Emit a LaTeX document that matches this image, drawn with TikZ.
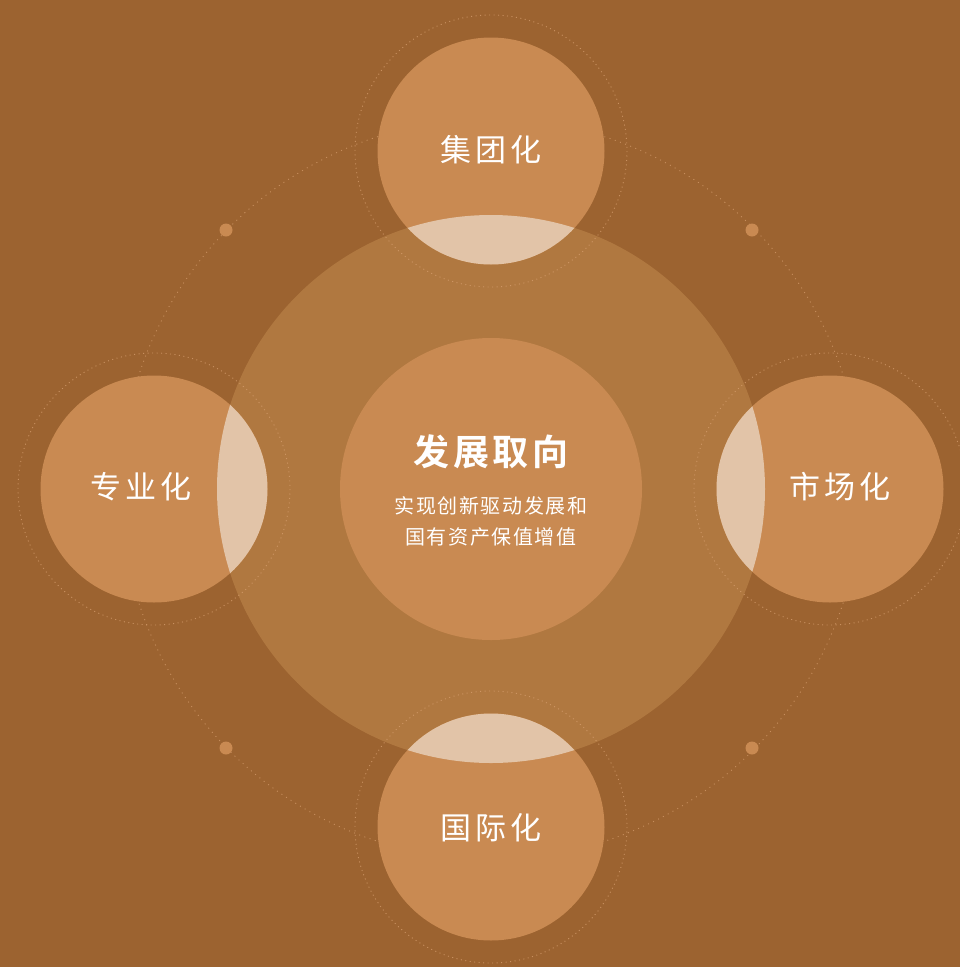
\documentclass[tikz,border=0pt]{standalone}
\usepackage{fontspec}
\setmainfont{Noto Sans CJK SC}
\newfontfamily\cjklabel[LetterSpace=12]{Noto Sans CJK SC}
\newfontfamily\cjktitle[LetterSpace=10,BoldFont={Noto Sans CJK SC Bold}]{Noto Sans CJK SC}
\newfontfamily\cjksub[LetterSpace=8]{Noto Sans CJK SC}
\definecolor{bgc}{HTML}{9C6330}
\definecolor{bigc}{HTML}{B07840}
\definecolor{satc}{HTML}{C98A52}
\definecolor{lensc}{HTML}{E2C4A8}
\definecolor{dotc}{HTML}{D8A070}
\tikzset{
  ring/.style={draw=dotc, line width=0.9pt, dash pattern=on 1pt off 3.5pt, draw opacity=0.75},
  bigring/.style={draw=dotc, line width=0.9pt, dash pattern=on 1pt off 4.5pt, draw opacity=0.7},
  satlabel/.style={text=white, font=\cjklabel\fontsize{31}{35}\selectfont, inner sep=0pt},
}
\begin{document}
\begin{tikzpicture}[x=1pt,y=-1pt]
\useasboundingbox (0,0) rectangle (960,967);
\fill[bgc] (0,0) rectangle (960,967);
% large dotted orbit
\draw[bigring] (491,489) circle (370);
% small dots on orbit
\foreach \p in {(226,230),(752,230),(226,748),(752,748)} \fill[satc] \p circle (6.5);
% big translucent circle
\fill[bigc] (491,489) circle (274);
% rings around satellites
\draw[ring] (491,151) circle (136);
\draw[ring] (154,489) circle (136);
\draw[ring] (830,489) circle (136);
\draw[ring] (491,827) circle (136);
% center circle
\fill[satc] (491,489) circle (151);
% satellites
\fill[satc] (491,151) circle (113.5);
\fill[satc] (154,489) circle (113.5);
\fill[satc] (830,489) circle (113.5);
\fill[satc] (491,827) circle (113.5);
% lenses
\begin{scope}
  \clip (491,489) circle (274);
  \fill[lensc] (491,151) circle (113.5);
  \fill[lensc] (154,489) circle (113.5);
  \fill[lensc] (830,489) circle (113.5);
  \fill[lensc] (491,827) circle (113.5);
\end{scope}
% labels
\node[satlabel] (top) at (491,150) {集团化};
\node[satlabel] (left) at (141,487) {专业化};
\node[satlabel] (right) at (840,487) {市场化};
\node[satlabel] (bottom) at (491,828) {国际化};
\node[text=white, inner sep=0pt, font=\cjktitle\bfseries\fontsize{36}{40}\selectfont] (title) at (491,452) {发展取向};
\node[text=white, inner sep=0pt, align=center, font=\cjksub\fontsize{20}{31}\selectfont] (sub) at (491,521) {实现创新驱动发展和\\国有资产保值增值};
\end{tikzpicture}
\end{document}
